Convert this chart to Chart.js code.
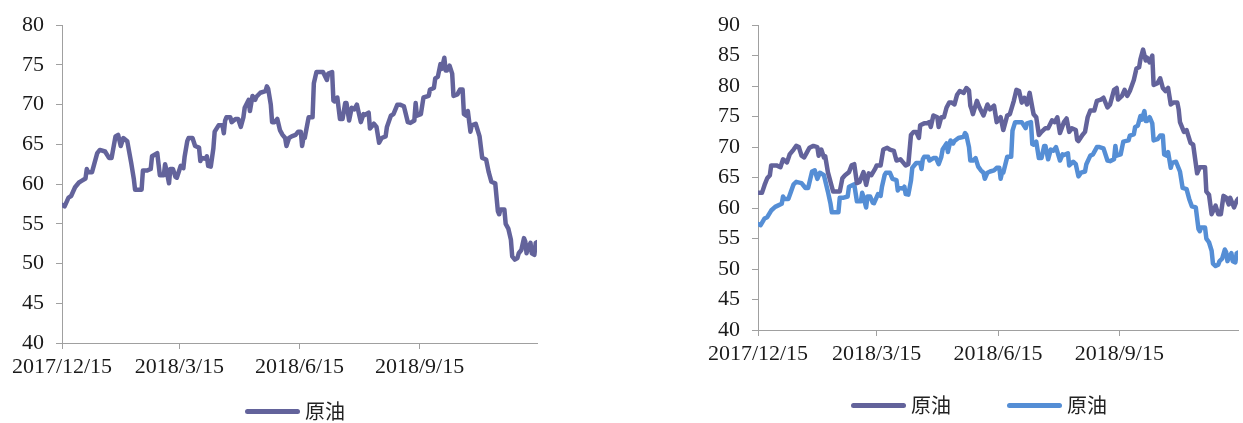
<!DOCTYPE html>
<html><head><meta charset="utf-8">
<script src="https://cdn.jsdelivr.net/npm/chart.js@4.4.1/dist/chart.umd.min.js"></script>
<style>
html,body{margin:0;padding:0;background:#fff;}
body{width:1243px;height:423px;overflow:hidden;position:relative;font-family:"Noto Sans CJK SC",sans-serif;}
#c1{position:absolute;left:0;top:0;}
#c2{position:absolute;left:621px;top:0;}
.lg{position:absolute;display:flex;align-items:center;font-size:20px;color:#222;line-height:20px;height:20px;}
.lg i{display:inline-block;width:55px;height:5px;border-radius:3px;margin-right:5px;}
</style></head><body>
<canvas id="c1" width="621" height="423"></canvas>
<canvas id="c2" width="622" height="423"></canvas>
<div class="lg" style="left:245px;top:401px"><i style="background:#63639B"></i><span>原油</span></div>
<div class="lg" style="left:851px;top:395px"><i style="background:#63639B"></i><span>原油</span></div>
<div class="lg" style="left:1007px;top:395px"><i style="background:#558ED5"></i><span>原油</span></div>
<script>
// days since 2017/12/15
const startDate = [2017, 12, 15];
const xMaxDay = 364;
const xTickLabels = ['2017/12/15', '2018/3/15', '2018/6/15', '2018/9/15'];
const seriesName = '原油';

const dates1 = [0,2,5,7,10,13,15,18,19,20,23,25,27,29,33,36,38,41,43,45,47,50,53,55,56,59,61,62,65,68,69,71,73,74,75,78,79,80,82,83,85,87,88,91,93,94,96,97,100,102,105,106,107,110,111,112,114,116,117,120,123,124,125,126,129,130,133,135,137,139,140,143,144,146,148,149,152,156,157,158,160,161,163,165,167,169,171,172,174,176,179,181,183,184,185,186,189,192,193,195,198,200,203,204,207,208,209,211,213,215,217,218,220,222,224,226,229,231,232,235,236,239,241,243,245,248,249,252,254,257,259,262,265,267,270,271,272,275,277,281,282,285,286,288,290,291,293,294,295,297,299,300,303,305,307,308,310,311,313,314,317,320,322,325,327,329,332,334,335,336,339,340,342,344,345,347,349,350,352,354,355,356,357,359,360,362,363,364];
const crude1 = [57.4,57.2,58.3,58.5,59.6,60.2,60.4,60.7,61.9,61.5,61.5,62.7,63.9,64.3,64.1,63.3,63.3,66.0,66.2,64.8,65.8,65.4,62.7,60.7,59.3,59.3,59.3,61.7,61.7,61.9,63.5,63.7,63.9,62.5,61.1,61.1,62.5,61.8,60.1,61.9,61.9,60.9,60.8,62.3,62.0,63.5,65.4,65.8,65.8,64.8,64.6,62.9,63.3,63.2,63.5,62.3,62.2,64.5,66.6,67.4,67.4,66.4,68.0,68.4,68.4,67.8,68.2,68.2,67.2,68.4,69.6,70.6,69.2,71.1,70.6,71.0,71.5,71.7,72.3,72.0,70.0,67.8,67.8,68.2,66.8,66.2,65.8,64.8,65.8,66.0,66.2,66.6,66.6,64.8,65.8,65.8,68.4,68.4,72.7,74.1,74.1,74.1,73.1,73.9,74.1,70.5,70.4,70.9,68.2,68.2,70.2,70.2,68.0,69.6,69.4,70.0,67.8,68.8,68.7,69.0,67.0,67.6,67.2,65.2,65.8,66.0,67.2,68.6,68.8,70.0,70.0,69.8,67.8,67.7,68.0,70.2,68.6,68.8,70.9,71.1,71.9,72.1,73.3,73.5,75.1,74.5,75.9,74.3,74.3,74.9,73.9,71.1,71.3,71.9,71.9,68.8,68.6,69.2,66.6,67.4,67.6,66.0,63.3,63.1,61.5,60.3,60.1,56.6,56.2,56.8,56.8,55.0,54.4,53.0,50.9,50.5,50.7,51.3,51.7,53.2,52.8,51.3,51.9,52.6,51.3,51.1,52.6,52.7];

const dates2 = [0,3,5,7,9,10,14,17,19,22,24,27,29,31,33,35,37,39,42,45,46,48,50,51,53,56,57,62,64,66,69,71,73,75,77,80,82,84,86,89,90,93,94,95,98,100,103,105,108,110,112,114,116,118,120,122,123,126,128,130,131,133,136,137,139,141,143,145,147,149,151,153,156,158,160,161,162,163,166,168,171,174,176,179,181,184,186,189,191,194,196,198,200,202,204,206,208,209,211,213,215,218,220,223,225,227,229,232,234,236,238,241,242,243,246,248,250,252,255,257,260,262,265,267,270,272,273,276,278,280,282,285,287,289,290,292,294,295,297,299,300,303,305,307,309,311,313,315,318,319,320,323,325,328,330,333,335,339,340,342,343,344,347,349,351,353,355,357,358,361,363,364];
const crude2 = [62.5,62.5,63.8,64.9,65.4,67.0,67.0,66.7,68.0,67.5,68.8,69.6,70.2,70.0,68.6,68.3,69.1,69.9,70.2,70.0,68.6,69.6,68.3,68.5,65.9,63.5,62.7,62.7,64.9,65.4,65.9,67.0,67.2,64.1,64.3,65.9,63.8,65.7,65.4,66.5,67.0,67.0,68.3,69.6,69.9,69.6,69.4,67.8,68.0,67.5,67.0,67.2,72.0,72.5,72.5,71.5,73.6,73.9,73.9,74.1,73.3,75.2,74.9,73.3,74.9,74.9,76.5,77.3,77.3,77.0,78.6,79.2,78.9,79.7,79.3,76.8,76.2,75.4,77.6,76.5,75.2,77.0,76.2,76.8,74.1,74.9,72.8,75.2,75.4,77.6,79.4,79.2,77.3,78.1,77.0,78.9,76.5,75.4,74.9,72.0,72.5,73.1,73.1,74.4,74.1,74.9,72.3,74.1,74.7,72.5,73.1,72.8,71.2,71.0,72.0,72.5,74.9,76.0,76.0,77.6,77.8,78.1,76.5,77.0,79.4,79.7,77.8,78.4,79.4,78.4,79.2,81.0,82.9,83.1,84.4,86.0,84.2,84.7,83.9,85.0,80.2,80.5,81.3,79.7,79.2,79.7,77.0,77.3,77.3,76.2,74.1,72.5,72.8,70.7,70.4,65.7,66.7,66.7,62.7,62.2,60.6,59.0,60.4,59.0,59.0,62.0,61.7,60.6,61.7,60.1,61.2,61.5];

const colorPurple = '#63639B';
const colorBlue = '#558ED5';

function dayOf(label) {
  const p = label.split('/').map(Number);
  return Math.round((Date.UTC(p[0], p[1] - 1, p[2]) - Date.UTC(startDate[0], startDate[1] - 1, startDate[2])) / 86400000);
}
const xTickDays = xTickLabels.map(dayOf);

function pts(d, v) { return d.map((x, i) => ({x: x, y: v[i]})); }

const axisColor = '#a0a0a0';
const tickFont = {family: '"Liberation Serif", serif', size: 22};

function makeChart(id, datasets, yMax, padLeft, padRight, xHeight) {
  return new Chart(document.getElementById(id), {
    type: 'line',
    data: {datasets: datasets},
    options: {
      responsive: false,
      animation: false,
      layout: {padding: {left: padLeft, right: padRight, top: 15, bottom: 0}},
      plugins: {legend: {display: false}, tooltip: {enabled: false}},
      elements: {
        point: {radius: 0},
        line: {borderWidth: 4.5, tension: 0, borderJoinStyle: 'round', borderCapStyle: 'round'}
      },
      scales: {
        x: {
          type: 'linear', min: 0, max: xMaxDay,
          afterBuildTicks: s => { s.ticks = xTickDays.map(v => ({value: v})); },
          afterFit: s => { s.height = xHeight; },
          ticks: {autoSkip: false, maxRotation: 0, padding: 5, color: '#1a1a1a', font: tickFont,
                  callback: (v, i) => xTickLabels[i]},
          grid: {drawOnChartArea: false, tickLength: 6, color: axisColor},
          border: {color: axisColor}
        },
        y: {
          min: 40, max: yMax,
          afterFit: s => { s.width = 62; },
          ticks: {stepSize: 5, padding: 12, color: '#1a1a1a', font: tickFont},
          grid: {drawOnChartArea: false, tickLength: 6, color: axisColor},
          border: {color: axisColor}
        }
      }
    }
  });
}

makeChart('c1', [
  {label: seriesName, data: pts(dates1, crude1), borderColor: colorPurple}
], 80, 0, 84, 80);

makeChart('c2', [
  {label: seriesName, data: pts(dates2, crude2), borderColor: colorPurple},
  {label: seriesName, data: pts(dates1, crude1), borderColor: colorBlue}
], 90, 75, 5, 93);
</script>
</body></html>
